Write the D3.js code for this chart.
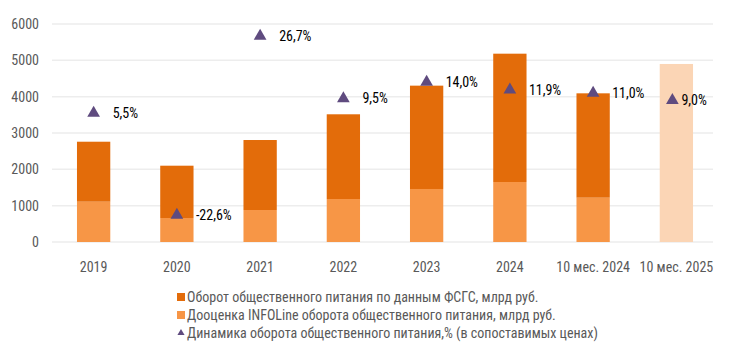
<!DOCTYPE html>
<html><head><meta charset="utf-8">
<script src="https://cdn.jsdelivr.net/npm/d3@7"></script>
<style>
html,body{margin:0;padding:0;background:#fff;}
text{font-family:"Roboto Condensed","Liberation Sans Narrow",Roboto,sans-serif;}
</style></head>
<body><svg id="c" width="729" height="346"></svg>
<script>
const categories = ["2019","2020","2021","2022","2023","2024","10 мес. 2024","10 мес. 2025"];
const infolineValues = [1110, 660, 880, 1183, 1459, 1651, 1220, null];
const fsgsValues = [1650, 1440, 1927, 2332, 2844, 3532, 2872, null];
const forecastValues = [null, null, null, null, null, null, null, 4900];
const dynamics = [5.5, -22.6, 26.7, 9.5, 14.0, 11.9, 11.0, 9.0];
const dynamicsLabels = ["5,5%","-22,6%","26,7%","9,5%","14,0%","11,9%","11,0%","9,0%"];
const yTicks = [0,1000,2000,3000,4000,5000,6000];
const legendLabels = [
  "Оборот общественного питания по данным ФСГС, млрд руб.",
  "Дооценка INFOLine оборота общественного питания, млрд руб.",
  "Динамика оборота общественного питания,% (в сопоставимых ценах)"
];

const colDark = "#E36C0A", colLight = "#F79646", colPale = "#FBD5B5", colTri = "#5F4B7F";
const svg = d3.select("#c");
const x = d3.scaleBand().domain(categories).range([52, 718]).paddingInner(0.6).paddingOuter(0.3);
const y = d3.scaleLinear().domain([0, 6000]).range([242, 24]);
const y2 = d3.scaleLinear().domain([-30, 30]).range([242, 24]);

// grid
svg.append("g").selectAll("line").data(yTicks).join("line")
  .attr("x1", 52).attr("x2", 713)
  .attr("y1", d => y(d)).attr("y2", d => y(d))
  .attr("stroke", "#EDEDED").attr("stroke-width", 1.5);

// y axis labels
const yAxis = d3.axisLeft(y).tickValues(yTicks).tickSize(0).tickPadding(0).tickFormat(d3.format("d"));
const ga = svg.append("g").attr("transform", "translate(39,0)").call(yAxis);
ga.select(".domain").remove();
ga.selectAll("text").attr("fill", "#595959").style("font-size", "14px");

// x axis labels
const xAxis = d3.axisBottom(x).tickSize(0).tickPadding(0);
const gx = svg.append("g").attr("transform", "translate(0,267)").call(xAxis);
gx.select(".domain").remove();
gx.selectAll("text").attr("fill", "#595959").style("font-size", "14px").attr("dy", "0.35em");

// bars
const bw = x.bandwidth();
const bars = svg.append("g");
categories.forEach((c, i) => {
  if (infolineValues[i] != null) {
    bars.append("rect").attr("x", x(c)).attr("width", bw)
      .attr("y", y(infolineValues[i])).attr("height", y(0) - y(infolineValues[i]))
      .attr("fill", colLight);
    const top = infolineValues[i] + fsgsValues[i];
    bars.append("rect").attr("x", x(c)).attr("width", bw)
      .attr("y", y(top)).attr("height", y(infolineValues[i]) - y(top))
      .attr("fill", colDark);
  }
  if (forecastValues[i] != null) {
    bars.append("rect").attr("x", x(c)).attr("width", bw)
      .attr("y", y(forecastValues[i])).attr("height", y(0) - y(forecastValues[i]))
      .attr("fill", colPale);
  }
});

// triangles + labels
const tri = d3.symbol().type(d3.symbolTriangle).size(70);
const g3 = svg.append("g");
dynamics.forEach((v, i) => {
  const last = i === categories.length - 1;
  const cx = x(categories[i]) + bw / 2 - (last ? 4 : 0);
  const cy = y2(v);
  g3.append("path").attr("d", tri).attr("transform", `translate(${cx},${cy})`).attr("fill", colTri);
  g3.append("text").attr("x", cx + (last ? 9 : 19)).attr("y", cy).attr("dy", "0.35em")
    .attr("fill", "#000").style("font-size", "14px").text(dynamicsLabels[i]);
});

// legend
const lg = svg.append("g");
legendLabels.forEach((t, i) => {
  const yy = 297 + i * 18;
  if (i < 2) {
    lg.append("rect").attr("x", 177).attr("y", yy - 4).attr("width", 8).attr("height", 8)
      .attr("fill", i === 0 ? colDark : colLight);
  } else {
    lg.append("path").attr("d", d3.symbol().type(d3.symbolTriangle).size(22))
      .attr("transform", `translate(181,${yy})`).attr("fill", colTri);
  }
  lg.append("text").attr("x", 187).attr("y", yy).attr("dy", "0.35em")
    .attr("fill", "#595959").style("font-size", "14px").text(t);
});
</script></body></html>
